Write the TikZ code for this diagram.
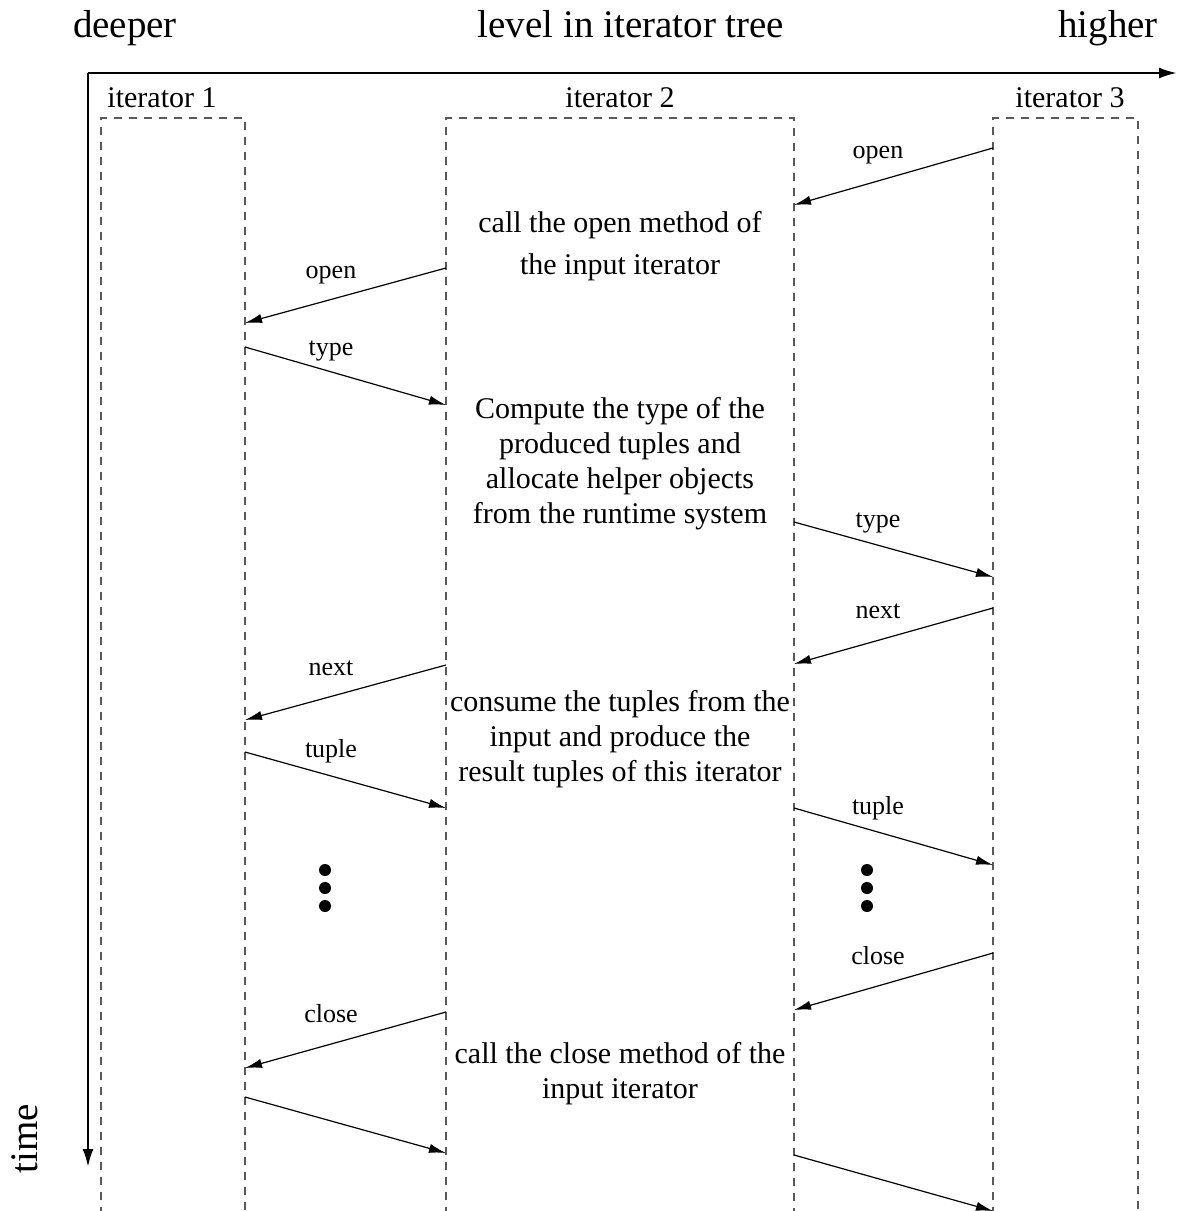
\documentclass[tikz,border=0pt]{standalone}
\usepackage{fontspec}
\setmainfont{Liberation Serif}
\usetikzlibrary{arrows.meta}
\begin{document}
\begin{tikzpicture}[x=0.5pt,y=-0.5pt,
  axis/.style={line width=1.2pt,-{Latex[length=9pt,width=5.5pt]}},
  msg/.style={line width=0.6pt,-{Latex[length=8.5pt,width=4.6pt]}},
  lane/.style={draw=black!65,line width=0.6pt,dash pattern=on 4pt off 3.5pt},
  title/.style={font=\fontsize{19.5}{23}\selectfont,anchor=base},
  lanename/.style={font=\fontsize{15}{18}\selectfont,anchor=base},
  msglabel/.style={font=\fontsize{13}{15}\selectfont,anchor=base},
  note/.style={font=\fontsize{15}{17.5}\selectfont,align=center,anchor=base,inner sep=0pt},
  dot/.style={circle,fill=black,inner sep=0pt,minimum size=6pt}]
\useasboundingbox (0,0) rectangle (1177,1211);
\clip (0,0) rectangle (1177,1211);

% axis titles
\node[title] (deeper) at (125,37) {deeper};
\node[title] (level) at (631,37) {level in iterator tree};
\node[title] (higher) at (1108,37) {higher};
\node[title,rotate=90] (time) at (38,1139) {time};

% axes
\coordinate (origin) at (88,73);
\coordinate (xend) at (1177,73);
\coordinate (yend) at (88,1167);
\draw[axis] (origin) -- (xend);
\draw[axis] (origin) -- (yend);

% iterator lanes (open at the bottom)
\foreach \name/\l/\r in {itA/101/245, itB/446/794, itC/993/1138}{
  \coordinate (\name-bl) at (\l,1215);
  \coordinate (\name-tl) at (\l,118);
  \coordinate (\name-tr) at (\r,118);
  \coordinate (\name-br) at (\r,1215);
  \draw[lane] (\name-bl) -- (\name-tl) -- (\name-tr) -- (\name-br);
}
\node[lanename] (nameA) at (162,107) {iterator 1};
\node[lanename] (nameB) at (620,107) {iterator 2};
\node[lanename] (nameC) at (1070,107) {iterator 3};

% message end points
\coordinate (m1s) at (993,148);  \coordinate (m1e) at (794,205);
\coordinate (m2s) at (446,268);  \coordinate (m2e) at (245,323);
\coordinate (m3s) at (245,347);  \coordinate (m3e) at (446,405);
\coordinate (m4s) at (794,522);  \coordinate (m4e) at (993,577);
\coordinate (m5s) at (993,608);  \coordinate (m5e) at (794,664);
\coordinate (m6s) at (446,665);  \coordinate (m6e) at (245,720);
\coordinate (m7s) at (245,752);  \coordinate (m7e) at (446,808);
\coordinate (m8s) at (794,808);  \coordinate (m8e) at (993,865);
\coordinate (m9s) at (993,953);  \coordinate (m9e) at (794,1010);
\coordinate (m10s) at (446,1012); \coordinate (m10e) at (245,1068);
\coordinate (m11s) at (245,1097); \coordinate (m11e) at (446,1153);
\coordinate (m12s) at (794,1155); \coordinate (m12e) at (993,1211);

\foreach \i in {1,...,12}{\draw[msg] (m\i s) -- (m\i e);}

% message labels
\node[msglabel] (l1) at (878,158) {open};
\node[msglabel] (l2) at (331,278) {open};
\node[msglabel] (l3) at (331,355) {type};
\node[msglabel] (l4) at (878,527) {type};
\node[msglabel] (l5) at (878,618) {next};
\node[msglabel] (l6) at (331,675) {next};
\node[msglabel] (l7) at (331,757) {tuple};
\node[msglabel] (l8) at (878,814) {tuple};
\node[msglabel] (l9) at (878,964) {close};
\node[msglabel] (l10) at (331,1022) {close};

% what iterator 2 does (base = baseline of the last line)
\node[note] (n1) at (620,232) {call the open method of};
\node[note] (n1b) at (620,274) {the input iterator};
\node[note] (n2) at (620,523) {Compute the type of the\\produced tuples and\\allocate helper objects\\from the runtime system};
\node[note] (n3) at (620,781) {consume the tuples from the\\input and produce the\\result tuples of this iterator};
\node[note] (n4) at (620,1098) {call the close method of the\\input iterator};

% continuation dots
\foreach \y [count=\k] in {870,888,906}{
  \node[dot] (dA\k) at (325,\y) {};
  \node[dot] (dC\k) at (867,\y) {};
}
\end{tikzpicture}
\end{document}
